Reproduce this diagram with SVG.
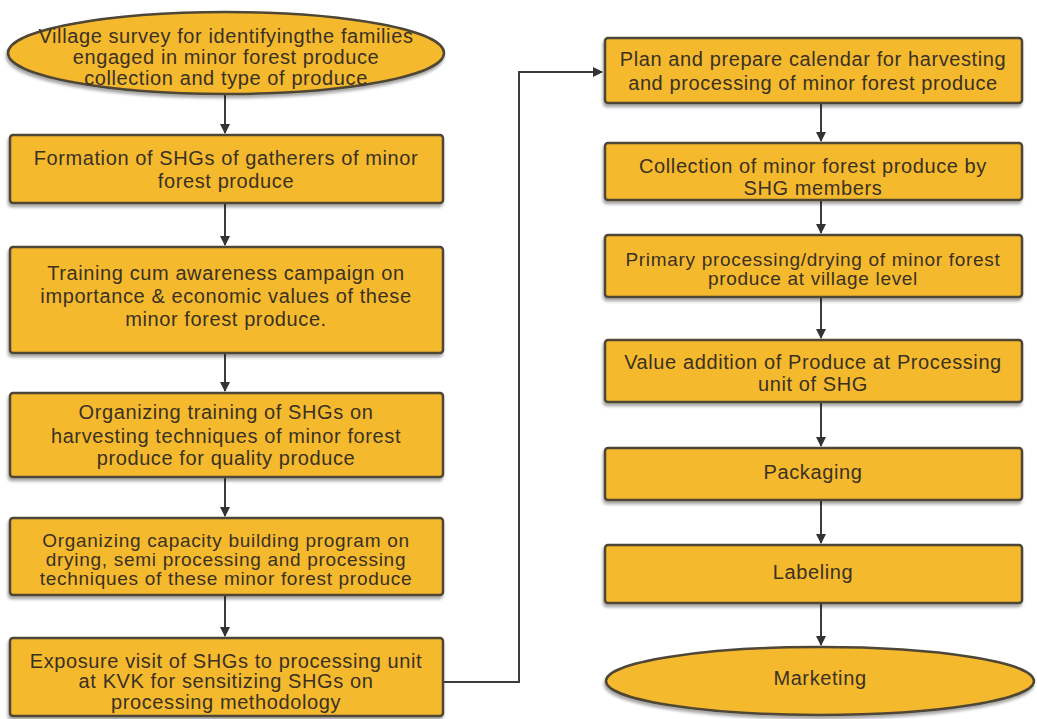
<svg xmlns="http://www.w3.org/2000/svg" width="1037" height="719" viewBox="0 0 1037 719">
<defs>
<style>
.n{fill:#F5B92F;stroke:#4f4636;stroke-width:2.5;filter:url(#sh)}
.t{font-family:"Liberation Sans",Arial,sans-serif;font-size:20px;letter-spacing:0.6px;fill:#3a3122;text-anchor:middle}
.s{font-size:19px;letter-spacing:0.7px}
.c{fill:none;stroke:#3c3c3c;stroke-width:2}
</style>
<filter id="sh" x="-5%" y="-10%" width="110%" height="130%">
<feDropShadow dx="-1" dy="3" stdDeviation="1.5" flood-color="#000" flood-opacity="0.35"/>
</filter>
<marker id="ar" viewBox="0 0 10 10" refX="9" refY="5" markerWidth="5" markerHeight="5" orient="auto">
<path d="M0,0 L10,5 L0,10 z" fill="#333"/>
</marker>
</defs>
<rect width="1037" height="719" fill="#fff"/>
<g id="connectors">
<line class="c" x1="225" y1="95" x2="225" y2="133" marker-end="url(#ar)"/>
<line class="c" x1="225" y1="204" x2="225" y2="245" marker-end="url(#ar)"/>
<line class="c" x1="225" y1="354" x2="225" y2="391" marker-end="url(#ar)"/>
<line class="c" x1="225" y1="478" x2="225" y2="516" marker-end="url(#ar)"/>
<line class="c" x1="225" y1="596" x2="225" y2="636" marker-end="url(#ar)"/>
<polyline class="c" points="444,682 519,682 519,72 602,72" marker-end="url(#ar)"/>
<line class="c" x1="821" y1="104" x2="821" y2="141" marker-end="url(#ar)"/>
<line class="c" x1="821" y1="201" x2="821" y2="233" marker-end="url(#ar)"/>
<line class="c" x1="821" y1="298" x2="821" y2="338" marker-end="url(#ar)"/>
<line class="c" x1="821" y1="403" x2="821" y2="446" marker-end="url(#ar)"/>
<line class="c" x1="821" y1="501" x2="821" y2="543" marker-end="url(#ar)"/>
<line class="c" x1="821" y1="604" x2="821" y2="645" marker-end="url(#ar)"/>
</g>
<g id="n1">
<ellipse class="n" cx="226" cy="53" rx="218" ry="41"/>
<text class="t" x="226" y="43">Village survey for identifyingthe families</text>
<text class="t" x="226" y="64">engaged in minor forest produce</text>
<text class="t" x="226" y="85">collection and type of produce</text>
</g>
<g id="n2">
<rect class="n" x="10" y="135" width="433" height="68" rx="3"/>
<text class="t" x="226" y="165">Formation of SHGs of gatherers of minor</text>
<text class="t" x="226" y="188">forest produce</text>
</g>
<g id="n3">
<rect class="n" x="10" y="247" width="433" height="106" rx="3"/>
<text class="t" x="226" y="280">Training cum awareness campaign on</text>
<text class="t" x="226" y="303">importance &amp; economic values of these</text>
<text class="t" x="226" y="326">minor forest produce.</text>
</g>
<g id="n4">
<rect class="n" x="10" y="393" width="433" height="84" rx="3"/>
<text class="t" x="226" y="419">Organizing training of SHGs on</text>
<text class="t" x="226" y="443">harvesting techniques of minor forest</text>
<text class="t" x="226" y="465">produce for quality produce</text>
</g>
<g id="n5">
<rect class="n" x="10" y="518" width="433" height="77" rx="3"/>
<text class="t s" x="226" y="547">Organizing capacity building program on</text>
<text class="t s" x="226" y="566">drying, semi processing and processing</text>
<text class="t s" x="226" y="585">techniques of these minor forest produce</text>
</g>
<g id="n6">
<rect class="n" x="10" y="638" width="433" height="78" rx="3"/>
<text class="t" x="226" y="668">Exposure visit of SHGs to processing unit</text>
<text class="t" x="226" y="688">at KVK for sensitizing SHGs on</text>
<text class="t" x="226" y="709">processing methodology</text>
</g>
<g id="n7">
<rect class="n" x="605" y="38" width="417" height="65" rx="3"/>
<text class="t" x="813" y="66">Plan and prepare calendar for harvesting</text>
<text class="t" x="813" y="90">and processing of minor forest produce</text>
</g>
<g id="n8">
<rect class="n" x="605" y="143" width="417" height="57" rx="3"/>
<text class="t" x="813" y="173">Collection of minor forest produce by</text>
<text class="t" x="813" y="195">SHG members</text>
</g>
<g id="n9">
<rect class="n" x="605" y="235" width="417" height="62" rx="3"/>
<text class="t s" x="813" y="266">Primary processing/drying of minor forest</text>
<text class="t s" x="813" y="285">produce at village level</text>
</g>
<g id="n10">
<rect class="n" x="605" y="340" width="417" height="62" rx="3"/>
<text class="t" x="813" y="369">Value addition of Produce at Processing</text>
<text class="t" x="813" y="391">unit of SHG</text>
</g>
<g id="n11">
<rect class="n" x="605" y="448" width="417" height="52" rx="3"/>
<text class="t" x="813" y="479">Packaging</text>
</g>
<g id="n12">
<rect class="n" x="605" y="545" width="417" height="58" rx="3"/>
<text class="t" x="813" y="579">Labeling</text>
</g>
<g id="n13">
<ellipse class="n" cx="820" cy="681" rx="214" ry="34"/>
<text class="t" x="820" y="685">Marketing</text>
</g>
</svg>
